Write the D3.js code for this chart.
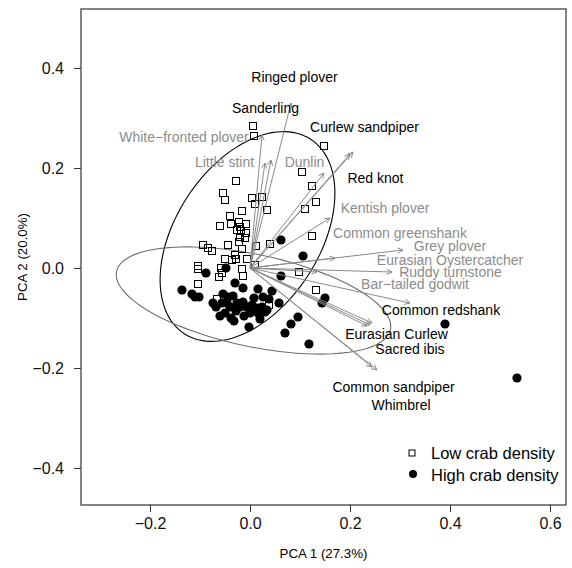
<!DOCTYPE html>
<html>
<head>
<meta charset="utf-8">
<script src="https://cdn.jsdelivr.net/npm/d3@7"></script>
<style>
  body { margin: 0; background: #fff; }
  svg { font-family: 'Liberation Sans', Arial, sans-serif; }
</style>
</head>
<body>
<div id="chart"></div>
<script>
// site scores, low crab density (squares)
const lowX = [0.006, 0.008, 0.148, 0.104, 0.124, -0.028, -0.054, -0.050, 0.004, 0.024, 0.010, -0.016, 0.034, 0.132, 0.110,
  -0.040, -0.038, -0.022, -0.060, -0.026, -0.020, -0.008, -0.020, -0.010, -0.022, 0.124, 0.040, 0.012, -0.044, -0.016,
  -0.094, -0.084, -0.076, -0.030, -0.050, -0.036, -0.028, -0.006, 0.010, -0.104, -0.104, -0.058, -0.056, -0.062, -0.016,
  -0.014, 0.098, -0.104, -0.066, 0.132, 0.038, -0.018, -0.008]
const lowY = [0.284, 0.264, 0.244, 0.192, 0.164, 0.174, 0.150, 0.136, 0.140, 0.142, 0.128, 0.114, 0.116, 0.132, 0.118,
  0.104, 0.088, 0.092, 0.084, 0.076, 0.082, 0.070, 0.062, 0.060, 0.052, 0.064, 0.048, 0.044, 0.046, 0.038,
  0.046, 0.040, 0.034, 0.026, 0.018, 0.016, 0.018, 0.018, 0.006, 0.004, -0.002, 0.000, -0.010, -0.018, -0.002,
  -0.016, -0.008, -0.032, -0.062, -0.044, -0.074, 0.074, 0.088]

// site scores, high crab density (filled circles)
const highX = [0.062, 0.106, 0.062, -0.088, -0.048, -0.030, -0.014, 0.016, 0.044, -0.136, -0.116, -0.110, -0.102, -0.054,
  -0.044, -0.034, -0.014, 0.008, 0.026, 0.038, 0.058, -0.068, -0.056, -0.046, -0.040, -0.026, -0.020, -0.006, 0.004,
  0.014, 0.024, 0.034, -0.060, -0.038, -0.032, 0.000, 0.016, 0.020, 0.030, -0.002, 0.082, 0.096, 0.070, 0.118, 0.150,
  0.144, 0.390, 0.534, -0.050, -0.028, -0.012, -0.074]
const highY = [0.056, 0.024, -0.016, -0.010, 0.000, -0.030, -0.040, -0.042, -0.046, -0.044, -0.052, -0.058, -0.058, -0.052,
  -0.058, -0.056, -0.068, -0.060, -0.058, -0.062, -0.070, -0.078, -0.070, -0.070, -0.078, -0.070, -0.078, -0.078, -0.074,
  -0.080, -0.078, -0.084, -0.096, -0.100, -0.106, -0.090, -0.090, -0.102, -0.088, -0.118, -0.112, -0.098, -0.130, -0.152,
  -0.060, -0.070, -0.112, -0.220, -0.090, -0.086, -0.096, -0.070]

// species loadings (arrow tips) and label positions
const species = ['Ringed plover', 'Sanderling', 'White\u2212fronted plover', 'Little stint', 'Dunlin', 'Curlew sandpiper',
  'Red knot', 'Kentish plover', 'Common greenshank', 'Grey plover', 'Eurasian Oystercatcher', 'Ruddy turnstone',
  'Bar\u2212tailed godwit', 'Common redshank', 'Eurasian Curlew', 'Sacred ibis', 'Common sandpiper', 'Whimbrel']
const arrowX = [0.082, 0.042, 0.024, 0.030, 0.148, 0.200, 0.206, 0.160, 0.170, 0.306, 0.134, 0.284, 0.320, 0.244, 0.234, 0.240, 0.254, 0.244]
const arrowY = [0.330, 0.216, 0.266, 0.210, 0.190, 0.228, 0.232, 0.100, 0.020, 0.036, -0.008, -0.008, -0.070, -0.110, -0.116, -0.114, -0.204, -0.198]
const labelX = [0.089, 0.031, -0.132, -0.051, 0.109, 0.229, 0.251, 0.270, 0.300, 0.400, 0.400, 0.401, 0.330, 0.382, 0.293, 0.320, 0.287, 0.302]
const labelY = [0.382, 0.320, 0.262, 0.212, 0.212, 0.282, 0.180, 0.120, 0.070, 0.044, 0.016, -0.008, -0.032, -0.084, -0.132, -0.162, -0.238, -0.274]
const greyLabel = [false, false, true, true, true, false, false, true, true, true, true, true, true, false, false, false, false, false]

// group ellipses: center, semi-axes, angle (deg)
const ellipses = [
  { cx: -0.005, cy: 0.063, a: 0.232, b: 0.144, angle: 57, color: '#000' },
  { cx: 0.007, cy: -0.065, a: 0.28, b: 0.092, angle: -12, color: '#6e6e6e' }
]

const xTicks = [-0.2, 0, 0.2, 0.4, 0.6]
const yTicks = [-0.4, -0.2, 0, 0.2, 0.4]

const width = 572
const height = 568
const margin = { left: 81, top: 9, right: 6, bottom: 63 }

const svg = d3.select('#chart').append('svg')
  .attr('width', width)
  .attr('height', height)

const x = d3.scaleLinear().domain([-0.338, 0.632]).range([margin.left, width - margin.right])
const y = d3.scaleLinear().domain([-0.474, 0.518]).range([height - margin.bottom, margin.top])

const fmt = d3.format('.1f')

const xAxis = d3.axisBottom(x).tickValues(xTicks).tickFormat(fmt).tickSize(7).tickSizeOuter(0).tickPadding(6)
const yAxis = d3.axisLeft(y).tickValues(yTicks).tickFormat(fmt).tickSize(7).tickSizeOuter(0).tickPadding(10)

const gx = svg.append('g').attr('transform', `translate(0,${height - margin.bottom})`).call(xAxis)
const gy = svg.append('g').attr('transform', `translate(${margin.left},0)`).call(yAxis)
gx.select('.domain').remove()
gy.select('.domain').remove()
svg.selectAll('.tick line').attr('stroke', '#333')
svg.selectAll('.tick text').attr('font-size', 16).attr('fill', '#111').attr('font-family', "'Liberation Sans', Arial, sans-serif")

svg.append('text')
  .attr('x', (margin.left + width - margin.right) / 2)
  .attr('y', 558)
  .attr('text-anchor', 'middle')
  .attr('font-size', 13.3)
  .text('PCA 1 (27.3%)')

svg.append('text')
  .attr('transform', `translate(27,${(margin.top + height - margin.bottom) / 2}) rotate(-90)`)
  .attr('text-anchor', 'middle')
  .attr('font-size', 13.3)
  .text('PCA 2 (20.0%)')

const plot = svg.append('g')

// ellipses
const theta = d3.range(0, 361, 3).map(d => d * Math.PI / 180)
const line = d3.line().x(d => x(d[0])).y(d => y(d[1]))
ellipses.forEach(e => {
  const r = e.angle * Math.PI / 180
  const pts = theta.map(t => {
    const u = e.a * Math.cos(t)
    const v = e.b * Math.sin(t)
    return [e.cx + u * Math.cos(r) - v * Math.sin(r), e.cy + u * Math.sin(r) + v * Math.cos(r)]
  })
  plot.append('path')
    .attr('d', line(pts) + 'Z')
    .attr('fill', 'none')
    .attr('stroke', e.color)
    .attr('stroke-width', 1.1)
})

// points
highX.forEach((d, i) => {
  plot.append('circle')
    .attr('cx', x(d))
    .attr('cy', y(highY[i]))
    .attr('r', 4.6)
    .attr('fill', '#000')
})

lowX.forEach((d, i) => {
  plot.append('rect')
    .attr('x', x(d) - 3.5)
    .attr('y', y(lowY[i]) - 3.5)
    .attr('width', 7)
    .attr('height', 7)
    .attr('fill', 'none')
    .attr('stroke', '#000')
    .attr('stroke-width', 1)
})

// species arrows
const arrowColor = '#8a8a8a'
species.forEach((s, i) => {
  const x0 = x(0)
  const y0 = y(0)
  const x1 = x(arrowX[i])
  const y1 = y(arrowY[i])
  const ang = Math.atan2(y1 - y0, x1 - x0)
  const hl = 6
  const hw = Math.PI / 7
  plot.append('line')
    .attr('x1', x0).attr('y1', y0)
    .attr('x2', x1).attr('y2', y1)
    .attr('stroke', arrowColor)
    .attr('stroke-width', 1)
  plot.append('path')
    .attr('d', `M${x1 - hl * Math.cos(ang - hw)},${y1 - hl * Math.sin(ang - hw)} L${x1},${y1} L${x1 - hl * Math.cos(ang + hw)},${y1 - hl * Math.sin(ang + hw)}`)
    .attr('fill', 'none')
    .attr('stroke', arrowColor)
    .attr('stroke-width', 1)
})

species.forEach((s, i) => {
  plot.append('text')
    .attr('x', x(labelX[i]))
    .attr('y', y(labelY[i]))
    .attr('dy', '0.35em')
    .attr('text-anchor', 'middle')
    .attr('font-size', 14)
    .attr('fill', greyLabel[i] ? '#8c8c8c' : '#000')
    .text(s)
})

// legend
const legend = svg.append('g')
legend.append('rect').attr('x', 409).attr('y', 450).attr('width', 6).attr('height', 6)
  .attr('fill', 'none').attr('stroke', '#000')
legend.append('circle').attr('cx', 413).attr('cy', 474).attr('r', 4).attr('fill', '#000')
legend.append('text').attr('x', 431).attr('y', 453).attr('dy', '0.35em').attr('font-size', 16.5).text('Low crab density')
legend.append('text').attr('x', 431).attr('y', 475).attr('dy', '0.35em').attr('font-size', 16.5).text('High crab density')

// box
svg.append('rect')
  .attr('x', margin.left)
  .attr('y', margin.top)
  .attr('width', width - margin.left - margin.right)
  .attr('height', height - margin.top - margin.bottom)
  .attr('fill', 'none')
  .attr('stroke', '#333')
  .attr('stroke-width', 1.2)
</script>
</body>
</html>
